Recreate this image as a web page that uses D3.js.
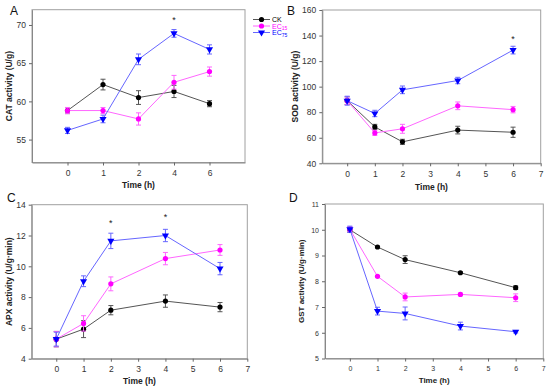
<!DOCTYPE html>
<html>
<head>
<meta charset="utf-8">
<script src="https://cdn.jsdelivr.net/npm/d3@7"></script>
<style>
  body { margin: 0; background: #fff; }
  svg { font-family: "Liberation Sans", Arial, sans-serif; }
</style>
</head>
<body>
<svg id="chart" width="550" height="391"></svg>
<script>
// time points (h)
const times = [0, 1, 2, 4, 6];
const series = ["CK", "EC15", "EC75"];

// A: CAT activity (U/g)
const catCK = [58.8, 62.2, 60.5, 61.3, 59.7];
const catCKErr = [0.4, 0.7, 0.9, 0.8, 0.4];
const catEC15 = [58.8, 58.8, 57.7, 62.5, 63.9];
const catEC15Err = [0.4, 0.4, 0.8, 0.9, 0.6];
const catEC75 = [56.2, 57.7, 65.5, 68.9, 66.8];
const catEC75Err = [0.4, 0.5, 0.7, 0.5, 0.6];

// B: SOD activity (U/g)
const sodCK = [89, 68.5, 56.8, 66, 64.3];
const sodCKErr = [3, 2, 2, 3, 4];
const sodEC15 = [89, 63.8, 67, 85, 82];
const sodEC15Err = [3, 2, 3.5, 3, 2.5];
const sodEC75 = [89, 79, 97.5, 104.8, 128.6];
const sodEC75Err = [3.5, 2.5, 3, 2.5, 3];

// C: APX activity (U/g·min)
const apxCK = [5.27, 5.92, 7.15, 7.74, 7.35];
const apxCKErr = [0.5, 0.55, 0.3, 0.4, 0.3];
const apxEC15 = [5.27, 6.29, 8.86, 10.5, 11.06];
const apxEC15Err = [0.5, 0.5, 0.45, 0.4, 0.35];
const apxEC75 = [5.27, 9.03, 11.65, 12.0, 9.85];
const apxEC75Err = [0.45, 0.35, 0.5, 0.4, 0.4];

// D: GST activity (U/g·min)
const gstCK = [10.0, 9.33, 8.84, 8.33, 7.75];
const gstCKErr = [0.1, 0.03, 0.15, 0.03, 0.07];
const gstEC15 = [10.02, 8.19, 7.39, 7.49, 7.36];
const gstEC15Err = [0.1, 0.03, 0.15, 0.05, 0.15];
const gstEC75 = [10.02, 6.84, 6.75, 6.26, 6.04];
const gstEC75Err = [0.12, 0.15, 0.25, 0.15, 0.05];

// significance marks (time, value)
const catStars = [[4, 70.8]];
const sodStars = [[6, 137.7]];
const apxStars = [[2, 12.88], [4, 13.27]];

const markColor = { CK: "#000000", EC15: "#ff00ff", EC75: "#0000ff" };
const lineColor = { CK: "#555555", EC15: "#ff66ff", EC75: "#6666ff" };
const errColor = { CK: "#555555", EC15: "#ff66ff", EC75: "#6666ff" };

const svg = d3.select("#chart");

function panel(opt) {
  const g = svg.append("g");
  const x = d3.scaleLinear().domain(opt.xDomain).range([opt.left, opt.right]);
  const y = d3.scaleLinear().domain(opt.yDomain).range([opt.bottom, opt.top]);
  const xpos = opt.categorical ? (t, i) => x(i) : (t, i) => x(t);

  // frame
  g.append("rect")
    .attr("x", opt.left).attr("y", opt.top)
    .attr("width", opt.right - opt.left).attr("height", opt.bottom - opt.top)
    .attr("fill", "none").attr("stroke", "#a0a0a0").attr("stroke-width", 1);

  const yAxis = d3.axisLeft(y).tickValues(opt.yTicks).tickFormat(d3.format("d"))
    .tickSize(3).tickSizeOuter(0);
  const ya = g.append("g").attr("transform", `translate(${opt.left},0)`).call(yAxis);
  ya.select(".domain").attr("stroke", "#888");
  ya.selectAll(".tick line").attr("stroke", "#666");
  ya.selectAll("text").attr("font-size", opt.tickFont).attr("fill", "#333")
    .attr("font-family", "Liberation Sans, Arial, sans-serif");

  let xAxis;
  if (opt.categorical) {
    xAxis = d3.axisBottom(x).tickValues(d3.range(times.length))
      .tickFormat(i => times[i]).tickSize(3).tickSizeOuter(0);
  } else {
    xAxis = d3.axisBottom(x).tickValues(d3.range(0, 8)).tickFormat(d3.format("d"))
      .tickSize(3).tickSizeOuter(0);
  }
  const xa = g.append("g").attr("transform", `translate(0,${opt.bottom})`).call(xAxis);
  xa.select(".domain").attr("stroke", "#888");
  xa.selectAll(".tick line").attr("stroke", "#666");
  xa.selectAll("text").attr("font-size", opt.tickFont).attr("fill", "#333")
    .attr("font-family", "Liberation Sans, Arial, sans-serif").attr("dy", "0.9em");

  // titles
  g.append("text")
    .attr("transform", `translate(${opt.yTitleX},${(opt.top + opt.bottom) / 2}) rotate(-90)`)
    .attr("text-anchor", "middle").attr("font-size", opt.titleFont).attr("font-weight", "bold")
    .attr("fill", "#222").text(opt.yTitle);
  g.append("text")
    .attr("x", (opt.left + opt.right) / 2).attr("y", opt.xTitleY)
    .attr("text-anchor", "middle").attr("font-size", opt.titleFont).attr("font-weight", "bold")
    .attr("fill", "#222").text("Time (h)");
  g.append("text")
    .attr("x", opt.letterX).attr("y", opt.letterY)
    .attr("font-size", 12).attr("fill", "#111").text(opt.letter);

  const line = d3.line().x(d => d.x).y(d => y(d.v));

  opt.data.forEach(s => {
    const pts = times.map((t, i) => ({ x: xpos(t, i), v: s.values[i], e: s.err[i] }));
    g.append("path").datum(pts)
      .attr("d", line).attr("fill", "none")
      .attr("stroke", lineColor[s.name]).attr("stroke-width", 1);

    const eb = g.append("g").selectAll("g").data(pts).join("g").attr("stroke", errColor[s.name]).attr("stroke-width", 1);
    eb.append("line").attr("x1", d => d.x).attr("x2", d => d.x)
      .attr("y1", d => y(d.v - d.e)).attr("y2", d => y(d.v + d.e));
    eb.append("line").attr("x1", d => d.x - 2.5).attr("x2", d => d.x + 2.5)
      .attr("y1", d => y(d.v - d.e)).attr("y2", d => y(d.v - d.e));
    eb.append("line").attr("x1", d => d.x - 2.5).attr("x2", d => d.x + 2.5)
      .attr("y1", d => y(d.v + d.e)).attr("y2", d => y(d.v + d.e));

    drawMarkers(g, s.name, pts.map(d => [d.x, y(d.v)]));
  });

  (opt.stars || []).forEach(([t, v]) => {
    const i = times.indexOf(t);
    g.append("text").attr("x", xpos(t, i)).attr("y", y(v) + 4)
      .attr("text-anchor", "middle").attr("font-size", 9).attr("fill", "#222").text("*");
  });
}

function drawMarkers(g, name, xy) {
  if (name === "EC75") {
    g.append("g").selectAll("path").data(xy).join("path")
      .attr("d", d3.symbol().type(d3.symbolTriangle).size(22))
      .attr("transform", d => `translate(${d[0]},${d[1]}) rotate(180)`)
      .attr("fill", markColor[name]);
  } else {
    g.append("g").selectAll("circle").data(xy).join("circle")
      .attr("cx", d => d[0]).attr("cy", d => d[1]).attr("r", 2.6)
      .attr("fill", markColor[name]);
  }
}

panel({
  letter: "A", letterX: 10, letterY: 15,
  left: 32, right: 245, top: 9.7, bottom: 162.5,
  xDomain: [-1, 5], categorical: true,
  yDomain: [52, 72], yTicks: [55, 60, 65, 70],
  yTitle: "CAT activity (U/g)", yTitleX: 12, xTitleY: 188,
  tickFont: 8.5, titleFont: 8.5,
  stars: catStars,
  data: [
    { name: "CK", values: catCK, err: catCKErr },
    { name: "EC15", values: catEC15, err: catEC15Err },
    { name: "EC75", values: catEC75, err: catEC75Err }
  ]
});

panel({
  letter: "B", letterX: 287, letterY: 15,
  left: 322.3, right: 540.7, top: 10, bottom: 163.3,
  xDomain: [-0.9, 7],
  yDomain: [40, 160], yTicks: [40, 60, 80, 100, 120, 140, 160],
  yTitle: "SOD activity (U/g)", yTitleX: 298, xTitleY: 190,
  tickFont: 8.5, titleFont: 8.5,
  stars: sodStars,
  data: [
    { name: "CK", values: sodCK, err: sodCKErr },
    { name: "EC15", values: sodEC15, err: sodEC15Err },
    { name: "EC75", values: sodEC75, err: sodEC75Err }
  ]
});

panel({
  letter: "C", letterX: 7, letterY: 202,
  left: 31.7, right: 247.3, top: 204.7, bottom: 358.7,
  xDomain: [-0.9, 7],
  yDomain: [4, 14], yTicks: [4, 6, 8, 10, 12, 14],
  yTitle: "APX activity (U/g·min)", yTitleX: 12, xTitleY: 384,
  tickFont: 8.5, titleFont: 8.5,
  stars: apxStars,
  data: [
    { name: "CK", values: apxCK, err: apxCKErr },
    { name: "EC15", values: apxEC15, err: apxEC15Err },
    { name: "EC75", values: apxEC75, err: apxEC75Err }
  ]
});

panel({
  letter: "D", letterX: 289, letterY: 202,
  left: 325, right: 543.3, top: 204, bottom: 358.5,
  xDomain: [-0.9, 7],
  yDomain: [5, 11], yTicks: [5, 6, 7, 8, 9, 10, 11],
  yTitle: "GST activity (U/g·min)", yTitleX: 304, xTitleY: 383,
  tickFont: 7, titleFont: 8,
  data: [
    { name: "CK", values: gstCK, err: gstCKErr },
    { name: "EC15", values: gstEC15, err: gstEC15Err },
    { name: "EC75", values: gstEC75, err: gstEC75Err }
  ]
});

// legend (panel A)
const legendY = [19.5, 26, 32.5];
const lg = svg.append("g");
series.forEach((s, i) => {
  const ly = legendY[i];
  lg.append("line").attr("x1", 253).attr("x2", 270).attr("y1", ly).attr("y2", ly)
    .attr("stroke", lineColor[s]).attr("stroke-width", 1);
  drawMarkers(lg, s, [[261.5, ly]]);
  const t = lg.append("text").attr("x", 272).attr("y", ly + 2.5)
    .attr("font-size", 7).attr("fill", markColor[s]);
  if (s === "CK") {
    t.text("CK");
  } else {
    t.append("tspan").text("EC");
    t.append("tspan").attr("font-size", 5).attr("dy", 1.5).text(s.slice(2));
  }
});
</script>
</body>
</html>
